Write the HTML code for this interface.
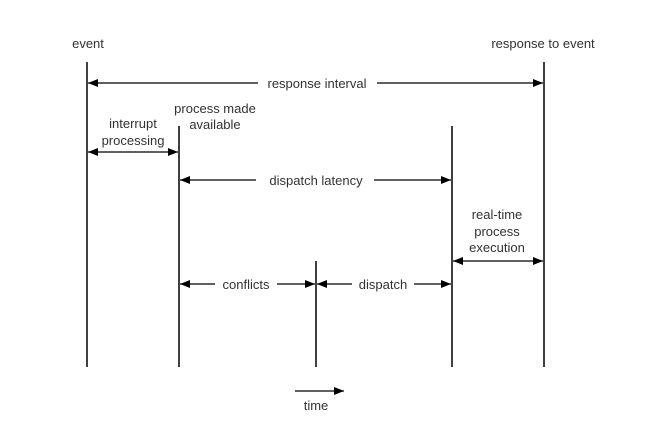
<!DOCTYPE html>
<html><head><style>body{margin:0;background:#fff}</style></head><body>
<svg width="659" height="437" xmlns="http://www.w3.org/2000/svg" font-family="Liberation Sans, sans-serif" font-size="13" fill="#333">
<defs>
<marker id="a" viewBox="0 0 10 8" refX="10" refY="4" markerWidth="10" markerHeight="8" markerUnits="userSpaceOnUse" orient="auto-start-reverse"><path d="M0,0L10,4L0,8z" fill="#000"/></marker>
</defs>
<g stroke="#000" stroke-width="1.5">
<line x1="87" y1="62" x2="87" y2="367"/>
<line x1="179" y1="126" x2="179" y2="367"/>
<line x1="316" y1="261" x2="316" y2="367"/>
<line x1="452" y1="126" x2="452" y2="367"/>
<line x1="544" y1="62" x2="544" y2="367"/>
</g>
<g stroke="#000" stroke-width="1.3">
<line x1="88" y1="83" x2="258" y2="83" marker-start="url(#a)"/>
<line x1="377" y1="83" x2="543" y2="83" marker-end="url(#a)"/>
<line x1="88" y1="152" x2="178" y2="152" marker-start="url(#a)" marker-end="url(#a)"/>
<line x1="180" y1="180" x2="256" y2="180" marker-start="url(#a)"/>
<line x1="374" y1="180" x2="451" y2="180" marker-end="url(#a)"/>
<line x1="453" y1="261" x2="543" y2="261" marker-start="url(#a)" marker-end="url(#a)"/>
<line x1="180" y1="284" x2="215" y2="284" marker-start="url(#a)"/>
<line x1="277" y1="284" x2="315" y2="284" marker-end="url(#a)"/>
<line x1="317" y1="284" x2="352" y2="284" marker-start="url(#a)"/>
<line x1="414" y1="284" x2="451" y2="284" marker-end="url(#a)"/>
<line x1="295" y1="391" x2="344" y2="391" marker-end="url(#a)"/>
</g>
<g text-anchor="middle">
<text x="88" y="48">event</text>
<text x="543" y="48">response to event</text>
<text x="317" y="88">response interval</text>
<text x="133" y="128">interrupt</text>
<text x="133" y="145">processing</text>
<text x="215" y="113">process made</text>
<text x="215" y="129">available</text>
<text x="316" y="185">dispatch latency</text>
<text x="497" y="219">real-time</text>
<text x="497" y="236">process</text>
<text x="497" y="252">execution</text>
<text x="246" y="289">conflicts</text>
<text x="383" y="289">dispatch</text>
<text x="316" y="410">time</text>
</g>
</svg>
</body></html>
